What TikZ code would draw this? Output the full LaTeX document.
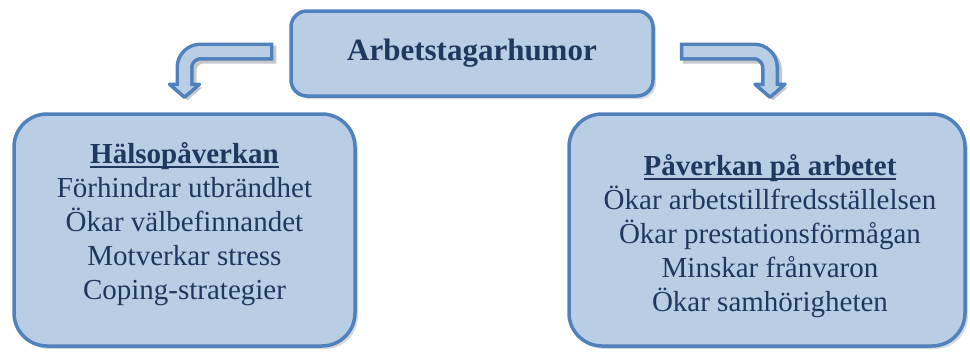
\documentclass[tikz,border=0pt]{standalone}
\usepackage{fontspec}
\setmainfont{Liberation Serif}
\usetikzlibrary{positioning,shadows,calc}
\definecolor{boxline}{RGB}{79,129,189}
\definecolor{boxfill}{RGB}{185,205,229}
\definecolor{ink}{RGB}{31,56,94}
\newcommand{\ultitle}[1]{\setbox0\hbox{\bfseries #1}\rlap{\copy0}\rule[-4.5pt]{\wd0}{2.2pt}}
\tikzset{
  box/.style={draw=boxline,fill=boxfill,line width=3.5pt,rounded corners=#1,
    drop shadow={shadow xshift=3pt,shadow yshift=-3pt,opacity=0.3}},
  boxtext/.style={align=center,text=ink,font=\fontsize{29}{34}\selectfont},
  shaftout/.style={line width=18pt,draw=boxline,rounded corners=16pt},
  shaftin/.style={line width=11pt,draw=boxfill,rounded corners=16pt,shorten <=3.5pt},
  arrowhead/.style={draw=boxline,fill=boxfill,line width=3.5pt,line join=round},
}
\begin{document}
\begin{tikzpicture}[x=1pt,y=-1pt]
  \useasboundingbox (0,0) rectangle (970,354);
  % boxes
  \node[box=16pt,minimum width=362pt,minimum height=85pt,text=ink,
    font=\fontsize{31}{36}\selectfont\bfseries] (top) at (472,53.5) {Arbetstagarhumor};
  \node[box=33pt,minimum width=341pt,minimum height=232pt] (hals) at (184.5,230) {};
  \node[box=33pt,minimum width=396pt,minimum height=232pt] (paav) at (767,230) {};
  \node[boxtext] (halstxt) at ([yshift=6pt]hals.center)
    {\ultitle{Hälsopåverkan}\\Förhindrar utbrändhet\\Ökar välbefinnandet\\Motverkar stress\\Coping-strategier};
  \node[boxtext] (paavtxt) at ([shift={(3pt,-6pt)}]paav.center)
    {\ultitle{Påverkan på arbetet}\\Ökar arbetstillfredsställelsen\\Ökar prestationsförmågan\\Minskar frånvaron\\Ökar samhörigheten};
  % bent arrows
  \foreach \s/\b/\d/\x in {west/hals/-16/0, east/paav/25/3}{
    \begin{scope}[transform canvas={shift={(3pt,-3pt)}},opacity=0.22]
      \draw[line width=18pt,black,rounded corners=16pt] ([shift={(\d pt,2pt)}]top.\s) -| ([shift={(\x pt,26pt)}]\b.north);
      \fill[black] ([shift={(\x pt-15pt,28pt)}]\b.north) -- ([shift={(\x pt+15pt,28pt)}]\b.north) -- ([shift={(\x pt,15pt)}]\b.north) -- cycle;
    \end{scope}
    \draw[shaftout] ([shift={(\d pt,2pt)}]top.\s) -| ([shift={(\x pt,26pt)}]\b.north);
    \draw[arrowhead] ([shift={(\x pt-15pt,28pt)}]\b.north) -- ([shift={(\x pt+15pt,28pt)}]\b.north) -- ([shift={(\x pt,15pt)}]\b.north) -- cycle;
    \draw[shaftin] ([shift={(\d pt,2pt)}]top.\s) -| ([shift={(\x pt,22pt)}]\b.north);
  }
\end{tikzpicture}
\end{document}
